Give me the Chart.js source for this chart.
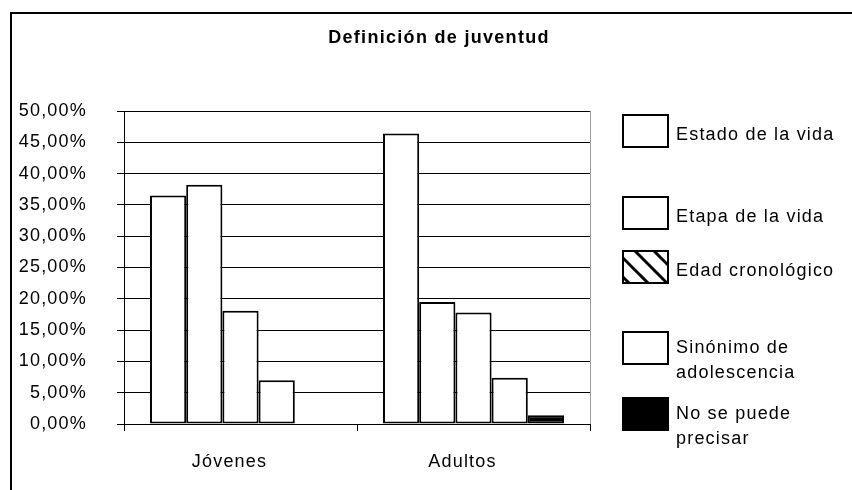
<!DOCTYPE html>
<html>
<head>
<meta charset="utf-8">
<script src="https://cdn.jsdelivr.net/npm/chart.js@4.4.1/dist/chart.umd.min.js"></script>
<style>
    html, body { margin: 0; padding: 0; background: #fff; }
    #wrap { width: 852px; height: 490px; position: relative; }
</style>
</head>
<body>
<div id="wrap"><canvas id="juventudChart"></canvas></div>
<script>
// Categories and series (percent)
const chartTitle = 'Definición de juventud';
const categories = ['Jóvenes', 'Adultos'];
const seriesLabels = ['Estado de la vida', 'Etapa de la vida', 'Edad cronológico', ['Sinónimo de', 'adolescencia'], ['No se puede', 'precisar']];
const estadoVida = [36.5, 46.4];
const etapaVida = [38.2, 19.5];
const edadCronologica = [18.1, 17.8];
const sinonimoAdolescencia = [7.0, 7.4];
const noSePuede = [0, 1.4];
const yTicks = [0, 5, 10, 15, 20, 25, 30, 35, 40, 45, 50];

const seriesValues = [estadoVida, etapaVida, edadCronologica, sinonimoAdolescencia, noSePuede];
const seriesFills = ['#ffffff', '#ffffff', '#ffffff', '#ffffff', '#000000'];
const FONT = '"Liberation Sans", Arial, sans-serif';

// wide, old-Excel-like text spacing
const spacingPlugin = {
    id: 'spacing',
    beforeLayout(chart) { chart.ctx.letterSpacing = '1.2px'; },
    beforeDraw(chart) { chart.ctx.letterSpacing = '1.2px'; }
};

// Title, outer frame, plot border and the hand-placed legend
const framePlugin = {
    id: 'frame',
    afterDraw(chart) {
        const ctx = chart.ctx;
        const area = chart.chartArea;
        ctx.save();
        // right border of the plot area
        ctx.strokeStyle = '#999';
        ctx.lineWidth = 1;
        ctx.beginPath();
        ctx.moveTo(area.right + 0.5, area.top);
        ctx.lineTo(area.right + 0.5, area.bottom);
        ctx.stroke();

        // outer border (left + top)
        ctx.strokeStyle = '#000';
        ctx.lineWidth = 2;
        ctx.beginPath();
        ctx.moveTo(11, 490);
        ctx.lineTo(11, 13);
        ctx.lineTo(852, 13);
        ctx.stroke();

        // title
        ctx.fillStyle = '#000';
        ctx.textAlign = 'center';
        ctx.textBaseline = 'middle';
        ctx.letterSpacing = '1.3px';
        ctx.font = 'bold 18px ' + FONT;
        ctx.fillText(chartTitle, 439, 38);

        // legend
        const boxTops = [115, 197, 251, 332, 398];
        const boxX = 623, boxW = 45, boxH = 32;
        ctx.letterSpacing = '1.2px';
        ctx.font = '18px ' + FONT;
        ctx.textAlign = 'left';
        chart.data.datasets.forEach((ds, i) => {
            const top = boxTops[i];
            ctx.lineWidth = 2;
            ctx.strokeStyle = '#000';
            ctx.fillStyle = ds.backgroundColor;
            ctx.fillRect(boxX, top, boxW, boxH);
            if (i === 2) {
                // hatched box
                ctx.save();
                ctx.beginPath();
                ctx.rect(boxX, top, boxW, boxH);
                ctx.clip();
                ctx.lineWidth = 3;
                for (let k = -boxH; k < boxW + boxH; k += 19) {
                    ctx.beginPath();
                    ctx.moveTo(boxX + k - boxH, top);
                    ctx.lineTo(boxX + k, top + boxH);
                    ctx.stroke();
                }
                ctx.restore();
            }
            ctx.strokeRect(boxX, top, boxW, boxH);

            ctx.fillStyle = '#000';
            const lines = Array.isArray(ds.label) ? ds.label : [ds.label];
            const mid = top + boxH / 2 + 4;
            if (lines.length === 1) {
                ctx.fillText(lines[0], 676, mid);
            } else {
                ctx.fillText(lines[0], 676, mid - 4);
                ctx.fillText(lines[1], 676, mid + 21);
            }
        });
        ctx.restore();
    }
};

new Chart(document.getElementById('juventudChart'), {
    type: 'bar',
    data: {
        labels: categories,
        datasets: seriesValues.map((vals, i) => ({
            label: seriesLabels[i],
            data: vals,
            backgroundColor: seriesFills[i],
            borderColor: '#000',
            borderWidth: 2,
            borderSkipped: false,
            barPercentage: 1.0,
            categoryPercentage: 0.777
        }))
    },
    options: {
        responsive: true,
        maintainAspectRatio: false,
        devicePixelRatio: 1,
        animation: false,
        layout: { padding: { left: 0, right: 262, top: 111, bottom: 0 } },
        plugins: {
            legend: { display: false },
            tooltip: { enabled: false },
            title: { display: false }
        },
        scales: {
            x: {
                grid: { drawOnChartArea: false, drawTicks: true, tickLength: 7, color: '#000' },
                border: { color: '#000', width: 1 },
                ticks: {
                    color: '#000',
                    padding: 20,
                    labelOffset: -11,
                    font: { family: FONT, size: 18 }
                },
                afterFit: s => { s.height = 66; }
            },
            y: {
                min: 0,
                max: 50,
                afterBuildTicks: s => { s.ticks = yTicks.map(v => ({ value: v })); },
                grid: { color: '#000', lineWidth: 1, tickLength: 7 },
                border: { color: '#000', width: 1 },
                ticks: {
                    color: '#000',
                    padding: 30,
                    font: { family: FONT, size: 18 },
                    callback: v => v.toFixed(2).replace('.', ',') + '%'
                },
                afterFit: s => { s.width = 124; }
            }
        }
    },
    plugins: [spacingPlugin, framePlugin]
});
</script>
</body>
</html>
